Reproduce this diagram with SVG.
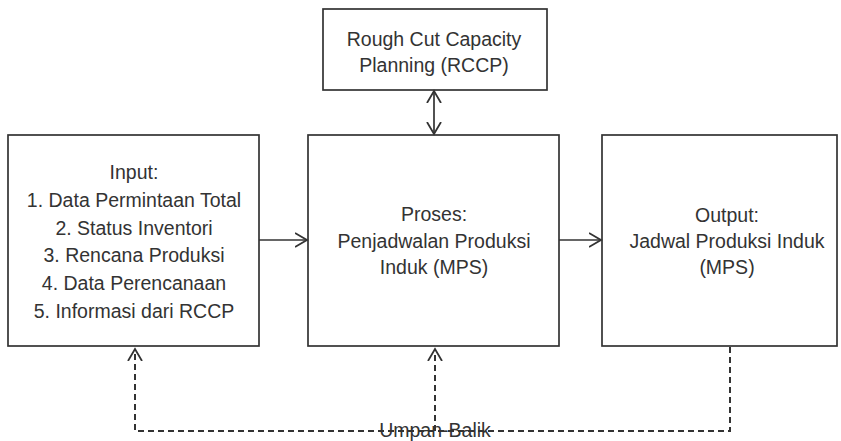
<svg xmlns="http://www.w3.org/2000/svg" width="841" height="441" viewBox="0 0 841 441">
<defs>
<marker id="arr" markerUnits="userSpaceOnUse" markerWidth="24" markerHeight="24" viewBox="-12 -12 24 24" refX="0" refY="0" orient="auto-start-reverse">
<path d="M-12,-7 L0,0 L-12,7" fill="none" stroke="#333" stroke-width="1.8" stroke-dasharray="none"/>
</marker>
</defs>
<style>
.box{fill:#fff;stroke:#333;stroke-width:1.7}
.t{font-family:"Liberation Sans",Arial,sans-serif;font-size:19.5px;fill:#333;text-anchor:middle}
.c{fill:none;stroke:#333;stroke-width:1.7}
.d{fill:none;stroke:#333;stroke-width:2;stroke-dasharray:6 4}
</style>
<rect width="841" height="441" fill="#fff"/>
<g id="rccp">
<rect class="box" x="323" y="9" width="224" height="81"/>
<text class="t" x="434" y="46">Rough Cut Capacity</text>
<text class="t" x="434" y="72">Planning (RCCP)</text>
</g>
<g id="input">
<rect class="box" x="8" y="135" width="251" height="211"/>
<text class="t" x="134" y="179">Input:</text>
<text class="t" x="134" y="207">1. Data Permintaan Total</text>
<text class="t" x="134" y="235">2. Status Inventori</text>
<text class="t" x="134" y="262">3. Rencana Produksi</text>
<text class="t" x="134" y="290">4. Data Perencanaan</text>
<text class="t" x="134" y="318">5. Informasi dari RCCP</text>
</g>
<g id="proses">
<rect class="box" x="308" y="135" width="251" height="211"/>
<text class="t" x="434" y="221">Proses:</text>
<text class="t" x="434" y="248">Penjadwalan Produksi</text>
<text class="t" x="434" y="274">Induk (MPS)</text>
</g>
<g id="output">
<rect class="box" x="602" y="135" width="235" height="211"/>
<text class="t" x="727" y="222">Output:</text>
<text class="t" x="727" y="248">Jadwal Produksi Induk</text>
<text class="t" x="727" y="274">(MPS)</text>
</g>
<g id="label">
<text class="t" x="435" y="437">Umpan-Balik</text>
</g>
<g id="connectors">
<line class="c" x1="434" y1="91" x2="434" y2="134" marker-start="url(#arr)" marker-end="url(#arr)"/>
<line class="c" x1="259" y1="240" x2="307" y2="240" marker-end="url(#arr)"/>
<line class="c" x1="559" y1="240" x2="601" y2="240" marker-end="url(#arr)"/>
<path class="d" d="M730,347 V431 H135 V349" marker-end="url(#arr)"/>
<path class="d" d="M435,431 V349" marker-end="url(#arr)"/>
</g>
</svg>
